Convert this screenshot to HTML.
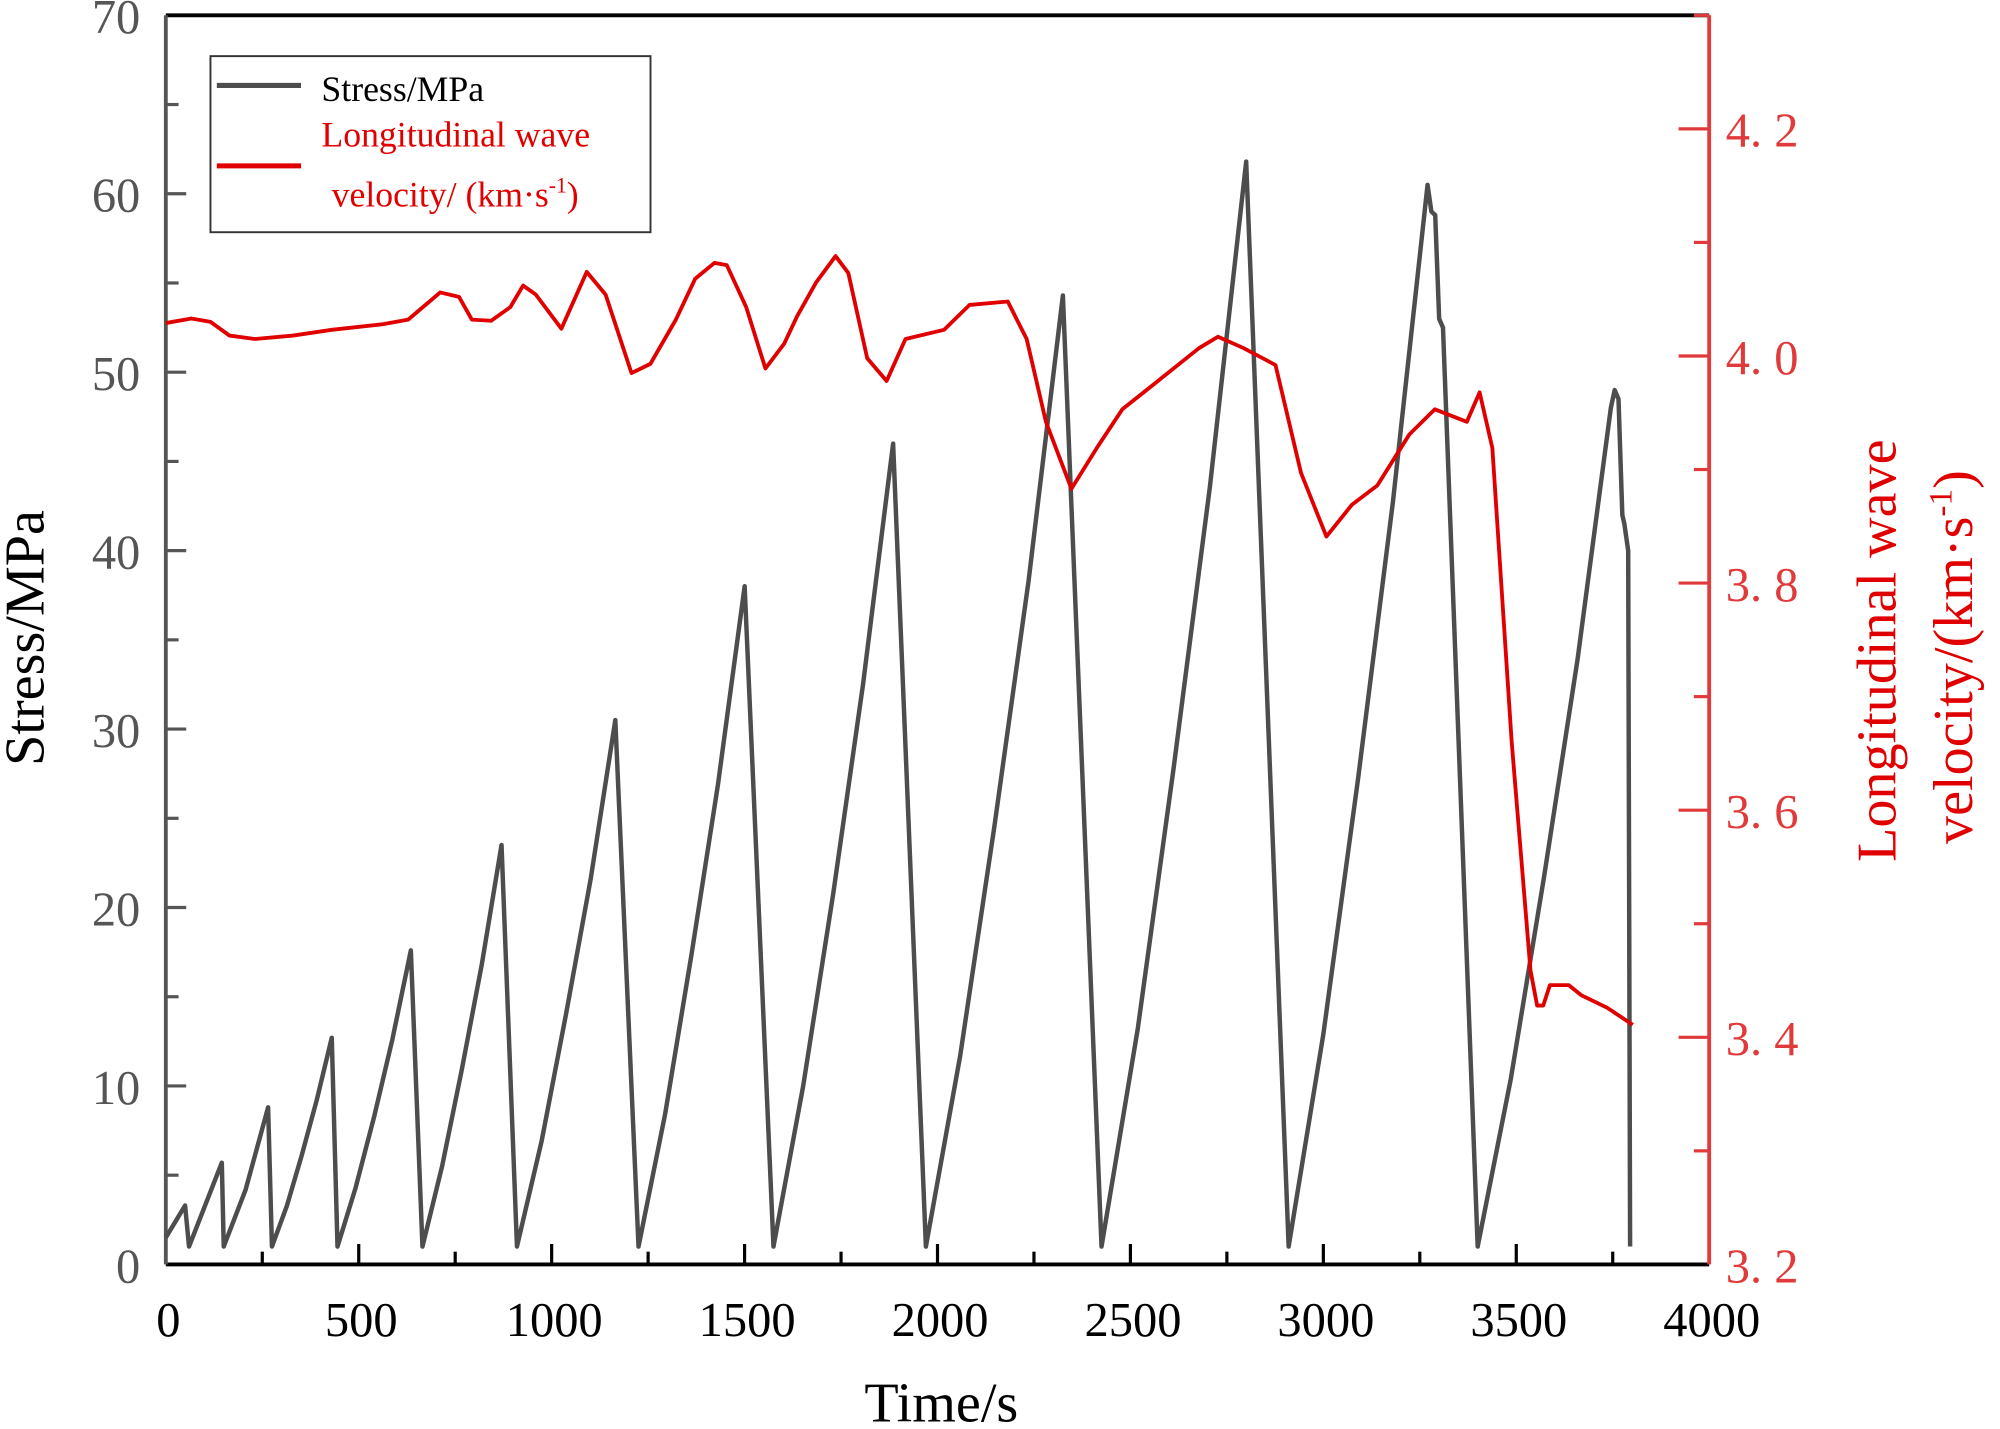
<!DOCTYPE html>
<html><head><meta charset="utf-8"><style>
html,body{margin:0;padding:0;background:#fff;}
svg{display:block;}
</style></head><body>
<svg id="chart" width="2000" height="1429" viewBox="0 0 1568 1120" preserveAspectRatio="none" xmlns="http://www.w3.org/2000/svg">
<g id="axes"></g>
<g id="series"></g>
<g id="legend">
 <rect x="165" y="44" width="345" height="138" fill="#fff" stroke="#333" stroke-width="1.5"/>
 <line x1="170" y1="67" x2="236" y2="67" stroke="#4d4d4d" stroke-width="4"/>
 <text x="252" y="79" font-family="Liberation Serif, serif" font-size="28" fill="#000">Stress/MPa</text>
 <line x1="170" y1="130" x2="236" y2="130" stroke="#e00000" stroke-width="4"/>
 <text x="252" y="115" font-family="Liberation Serif, serif" font-size="28" fill="#e00000">Longitudinal wave</text>
 <text x="260" y="162" font-family="Liberation Serif, serif" font-size="28" fill="#e00000">velocity/ (km·s<tspan font-size="17" dy="-11">-1</tspan><tspan dy="11">)</tspan></text>
</g>
</svg>
<script>
const stressTime = [0,50,60,145,150,207,265,275,314,352,391,430,445,492,540,587,635,665,716,767,819,870,910,974,1037,1101,1165,1225,1294,1362,1431,1500,1575,1652,1730,1807,1885,1970,2059,2147,2236,2325,2425,2519,2612,2706,2800,2910,3000,3090,3180,3270,3280,3290,3300,3310,3400,3486,3572,3659,3745,3755,3765,3775,3780,3790,3795];
const stressValue = [1.5,3.3,1,5.7,1,4.2,8.8,1,3.3,6.1,9.2,12.7,1,4.3,8.3,12.6,17.6,1,5.5,10.9,16.8,23.5,1,6.9,14,21.6,30.5,1,8.4,17.3,26.9,38,1,10,20.8,32.5,46,1,11.7,24.5,38.3,54.3,1,13.2,27.8,43.6,61.8,1,12.9,27.2,42.7,60.5,59,58.8,53,52.5,1,10.4,21.7,33.9,48,49,48.5,42,41.5,40,1];
const velTime = [0,66,116,165,231,330,430,562,628,711,760,793,843,893,926,959,1025,1091,1140,1207,1256,1322,1372,1422,1454,1504,1554,1603,1636,1686,1736,1769,1818,1868,1917,2017,2083,2182,2231,2281,2347,2413,2479,2579,2678,2727,2793,2876,2942,3008,3074,3140,3223,3289,3372,3405,3438,3488,3537,3554,3570,3587,3636,3669,3736,3802];
const velValue = [4.029,4.033,4.030,4.018,4.015,4.018,4.023,4.028,4.032,4.056,4.052,4.032,4.031,4.043,4.062,4.054,4.024,4.074,4.054,3.985,3.993,4.032,4.068,4.082,4.080,4.043,3.989,4.011,4.035,4.065,4.088,4.073,3.998,3.978,4.015,4.023,4.045,4.048,4.015,3.942,3.883,3.919,3.953,3.980,4.007,4.017,4.007,3.992,3.897,3.841,3.869,3.886,3.931,3.953,3.942,3.968,3.919,3.661,3.459,3.428,3.428,3.446,3.446,3.437,3.426,3.411];
const xTicks = [0,500,1000,1500,2000,2500,3000,3500,4000];
const yLeftTicks = [0,10,20,30,40,50,60,70];
const yRightTicks = [3.2,3.4,3.6,3.8,4.0,4.2];
const yRightLabels = ["3. 2","3. 4","3. 6","3. 8","4. 0","4. 2"];

const L=130,R=1340,T=12,B=991;
const xs=t=>L+(t/4000)*(R-L);
const yl=v=>B-(v/70)*(B-T);
const yr=v=>B-((v-3.2)/1.1)*(B-T);
const NS="http://www.w3.org/2000/svg";
function mk(tag,attrs,parent,txt){const e=document.createElementNS(NS,tag);for(const k in attrs)e.setAttribute(k,attrs[k]);if(txt!==undefined)e.textContent=txt;parent.appendChild(e);return e;}
const ax=document.getElementById('axes'), se=document.getElementById('series');
const serif="Liberation Serif, serif";
const cjk="Liberation Serif, Noto Serif CJK SC, serif";

let e;
e=mk('line',{x1:L,y1:T,x2:R,y2:T,stroke:'#000','stroke-width':3},ax);


e=mk('line',{x1:L,y1:B,x2:R,y2:B,stroke:'#000','stroke-width':3},ax);


e=mk('line',{x1:L,y1:T,x2:L,y2:B,stroke:'#555','stroke-width':3},ax);


e=mk('line',{x1:R,y1:T,x2:R,y2:B,stroke:'#e03a3a','stroke-width':3},ax);



for(let i=0;i<xTicks.length;i++){
 const v=xTicks[i],x=xs(v);
 if(i>0&&i<xTicks.length-1){e=mk('line',{x1:x,y1:B,x2:x,y2:B-16,stroke:'#000','stroke-width':2.5},ax);
 
 }
 if(i<xTicks.length-1){const xm=xs(v+250);e=mk('line',{x1:xm,y1:B,x2:xm,y2:B-10,stroke:'#000','stroke-width':2.5},ax);
 
 }
 e=mk('text',{x:x+2,y:B+56,'text-anchor':'middle','font-family':serif,'font-size':38,fill:'#000'},ax,String(v));
 
 
}
for(let i=0;i<yLeftTicks.length;i++){
 const v=yLeftTicks[i],y=yl(v);
 if(i>0&&i<yLeftTicks.length-1){e=mk('line',{x1:L,y1:y,x2:L+16,y2:y,stroke:'#555','stroke-width':2.5},ax);
 
 }
 if(i<yLeftTicks.length-1){const ym=yl(v+5);e=mk('line',{x1:L,y1:ym,x2:L+10,y2:ym,stroke:'#555','stroke-width':2.5},ax);
 
 }
 e=mk('text',{x:L-20,y:y+14,'text-anchor':'end','font-family':serif,'font-size':38,fill:'#555'},ax,String(v));
 
 
}
for(let i=0;i<yRightTicks.length;i++){
 const v=yRightTicks[i],y=yr(v);
 if(i>0){e=mk('line',{x1:R,y1:y,x2:R-24,y2:y,stroke:'#e03a3a','stroke-width':2.5},ax);
 
 }
 const ym=yr(v+0.1);e=mk('line',{x1:R,y1:ym,x2:R-12,y2:ym,stroke:'#e03a3a','stroke-width':2.5},ax);
 
 
 e=mk('text',{x:R+13,y:y+14,'font-family':cjk,'font-size':38,fill:'#e03a3a'},ax,yRightLabels[i]);
 
 
}
e=mk('text',{x:738,y:1114,'text-anchor':'middle','font-family':serif,'font-size':44,fill:'#000'},ax,'Time/s');


e=mk('text',{x:0,y:0,transform:'translate(34,500) rotate(-90)','text-anchor':'middle','font-family':serif,'font-size':44,fill:'#000'},ax,'Stress/MPa');


e=mk('text',{x:0,y:0,transform:'translate(1486,510) rotate(-90)','text-anchor':'middle','font-family':serif,'font-size':44,fill:'#e00000'},ax,'Longitudinal wave');


e=mk('text',{x:0,y:0,transform:'translate(1546,515) rotate(-90)','text-anchor':'middle','font-family':serif,'font-size':44,fill:'#e00000'},ax,'velocity/(km·s');


const sup=mk('tspan',{'font-size':26,dy:-16},e,'-1');


const cl=mk('tspan',{dy:16},e,')');



let d=stressTime.map((t,i)=>(i?'L':'M')+xs(t).toFixed(1)+','+yl(stressValue[i]).toFixed(1)).join('');
e=mk('path',{d:d,fill:'none',stroke:'#4d4d4d','stroke-width':3.5,'stroke-linejoin':'round'},se);


d=velTime.map((t,i)=>(i?'L':'M')+xs(t).toFixed(1)+','+yr(velValue[i]).toFixed(1)).join('');
e=mk('path',{d:d,fill:'none',stroke:'#e00000','stroke-width':3,'stroke-linejoin':'round'},se);


document.getElementById('chart').appendChild(document.getElementById('legend'));
</script>
</body></html>
